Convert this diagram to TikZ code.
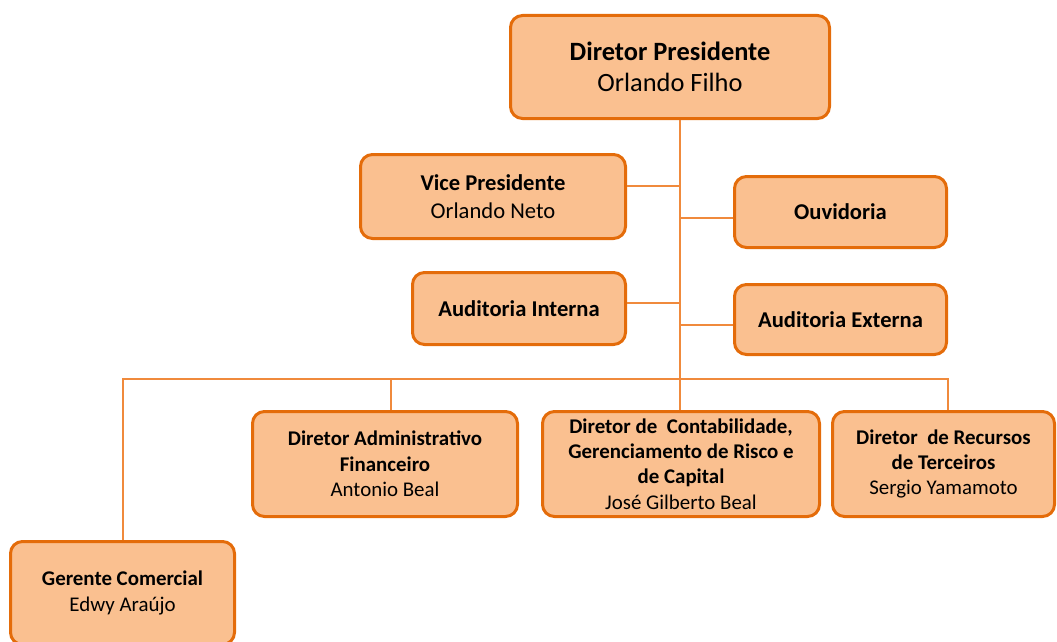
\documentclass[tikz,border=0pt]{standalone}
\usepackage{fontspec}
\setmainfont{Carlito}
\definecolor{boxfill}{HTML}{FAC090}
\definecolor{boxline}{HTML}{E46C0A}
\definecolor{connc}{HTML}{F08A3C}
\begin{document}
\begin{tikzpicture}[x=1pt,y=-1pt,
  box/.style={draw=boxline, fill=boxfill, line width=3pt, rounded corners=12pt,
    align=center, inner sep=0pt, text=black},
  big/.style={font=\fontsize{26.4}{31}\selectfont},
  mid/.style={font=\fontsize{22.6}{28}\selectfont},
  small/.style={font=\fontsize{20.9}{25.3}\selectfont},
  conn/.style={draw=connc, line width=1.3pt}]
\useasboundingbox (0,0) rectangle (1057,642);
\clip (0,0) rectangle (1057,642);
\coordinate (bus) at (680,379);
\coordinate (busL) at (123,379);
\coordinate (busR) at (948,379);
\coordinate (tVP) at (680,186);
\coordinate (tOU) at (680,218);
\coordinate (tAI) at (680,303);
\coordinate (tAE) at (680,325);
\coordinate (dDAF) at (391,379);
% nodes
\node[box,big,minimum width=319pt,minimum height=103pt] (dp) at (670,67)
  {\textbf{Diretor Presidente}\\Orlando Filho};
\node[box,mid,minimum width=265pt,minimum height=84pt] (vp) at (493,196.5)
  {\textbf{Vice Presidente}\\Orlando Neto};
\node[box,mid,minimum width=212pt,minimum height=71pt] (ou) at (840.5,212)
  {\textbf{Ouvidoria}};
\node[box,mid,minimum width=213pt,minimum height=72pt] (ai) at (519,308.5)
  {\textbf{Auditoria Interna}};
\node[box,mid,minimum width=212pt,minimum height=70pt] (ae) at (840.5,319.5)
  {\textbf{Auditoria Externa}};
\node[box,small,minimum width=265pt,minimum height=105pt] (daf) at (385,464)
  {\textbf{Diretor Administrativo}\\\textbf{Financeiro}\\Antonio Beal};
\node[box,small,minimum width=277pt,minimum height=105pt] (dc) at (681,464)
  {\textbf{Diretor de~ Contabilidade,}\\\textbf{Gerenciamento de Risco e}\\\textbf{de Capital}\\José Gilberto Beal};
\node[box,small,minimum width=222pt,minimum height=105pt] (dr) at (943.5,464)
  {\textbf{Diretor~ de Recursos}\\\textbf{de Terceiros}\\Sergio Yamamoto};
\node[box,small,minimum width=224pt,minimum height=103pt] (gc) at (122.5,593)
  {\textbf{Gerente Comercial}\\Edwy Araújo};
% connectors
\draw[conn] (dp.south -| bus) -- (bus);
\draw[conn] (tVP) -- (tVP -| vp.east);
\draw[conn] (tOU) -- (tOU -| ou.west);
\draw[conn] (tAI) -- (tAI -| ai.east);
\draw[conn] (tAE) -- (tAE -| ae.west);
\draw[conn] (busL |- gc.north) -- (busL) -- (busR) -- (busR |- dr.north);
\draw[conn] (dDAF) -- (dDAF |- daf.north);
\draw[conn] (bus) -- (bus |- dc.north);
\end{tikzpicture}
\end{document}
